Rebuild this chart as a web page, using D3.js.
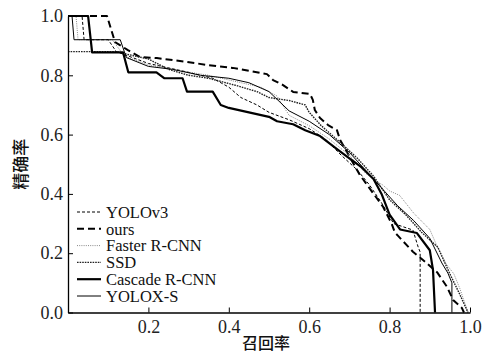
<!DOCTYPE html>
<html>
<head>
<meta charset="utf-8">
<script src="https://cdn.jsdelivr.net/npm/d3@7"></script>
<style>
  body { margin: 0; background: #fff; }
</style>
</head>
<body>
<svg id="chart"></svg>
<script>
// recall / precision points
const yolov3 = [[0,1],[0.035,1],[0.04,0.92],[0.1,0.92],[0.12,0.88],[0.2,0.84],[0.3,0.81],[0.36,0.79],[0.4,0.76],[0.43,0.725],[0.47,0.7],[0.5,0.675],[0.55,0.65],[0.6,0.62],[0.64,0.585],[0.68,0.53],[0.72,0.48],[0.75,0.43],[0.78,0.37],[0.81,0.3],[0.858,0.278],[0.871,0.221],[0.876,0.204],[0.876,0]];
const ours = [[0,1],[0.097,1],[0.117,0.912],[0.149,0.885],[0.179,0.862],[0.221,0.858],[0.296,0.845],[0.346,0.835],[0.41,0.825],[0.428,0.821],[0.495,0.804],[0.51,0.784],[0.535,0.767],[0.56,0.744],[0.602,0.737],[0.609,0.717],[0.614,0.683],[0.627,0.656],[0.647,0.632],[0.669,0.615],[0.677,0.582],[0.726,0.464],[0.784,0.356],[0.79,0.34],[0.805,0.3],[0.813,0.27],[0.82,0.26],[0.858,0.205],[0.883,0.177],[0.918,0.136],[0.943,0.086],[0.958,0.042],[0.98,0.015],[0.985,0]];
const fasterRcnn = [[0,1],[0.02,1],[0.025,0.92],[0.11,0.92],[0.14,0.865],[0.2,0.835],[0.28,0.815],[0.35,0.8],[0.43,0.775],[0.48,0.76],[0.52,0.73],[0.55,0.665],[0.6,0.63],[0.65,0.585],[0.7,0.53],[0.74,0.47],[0.77,0.44],[0.783,0.43],[0.8,0.41],[0.825,0.395],[0.86,0.335],[0.9,0.28],[0.916,0.23],[0.94,0.165],[0.96,0.13],[0.975,0.08],[0.99,0.02],[0.995,0]];
const ssd = [[0,0.88],[0.12,0.88],[0.15,0.87],[0.2,0.855],[0.25,0.82],[0.3,0.8],[0.35,0.79],[0.42,0.765],[0.47,0.745],[0.5,0.725],[0.55,0.715],[0.59,0.7],[0.6,0.675],[0.63,0.63],[0.68,0.57],[0.72,0.52],[0.76,0.46],[0.8,0.38],[0.84,0.33],[0.88,0.27],[0.92,0.22],[0.95,0.13],[0.975,0.06],[0.99,0.015],[0.995,0]];
const cascadeRcnn = [[0,1],[0.05,1],[0.06,0.877],[0.137,0.877],[0.15,0.81],[0.22,0.81],[0.24,0.79],[0.285,0.79],[0.296,0.745],[0.36,0.745],[0.38,0.7],[0.4,0.69],[0.45,0.675],[0.5,0.66],[0.52,0.645],[0.56,0.635],[0.59,0.615],[0.627,0.595],[0.67,0.55],[0.7,0.52],[0.73,0.49],[0.76,0.45],[0.78,0.4],[0.8,0.33],[0.826,0.28],[0.868,0.268],[0.9,0.21],[0.908,0.143],[0.913,0]];
const yoloxS = [[0,1],[0.01,1],[0.015,0.92],[0.13,0.92],[0.145,0.86],[0.2,0.83],[0.26,0.82],[0.33,0.8],[0.4,0.79],[0.45,0.775],[0.5,0.745],[0.55,0.68],[0.6,0.645],[0.65,0.6],[0.7,0.54],[0.74,0.48],[0.78,0.42],[0.82,0.36],[0.86,0.31],[0.9,0.25],[0.93,0.167],[0.945,0.133],[0.955,0.1],[0.955,0]];

const seriesNames = ['YOLOv3', 'ours', 'Faster R-CNN', 'SSD', 'Cascade R-CNN', 'YOLOX-S'];
const seriesData = [yolov3, ours, fasterRcnn, ssd, cascadeRcnn, yoloxS];
const xTicks = [0.2, 0.4, 0.6, 0.8, 1.0];
const yTicks = [0, 0.2, 0.4, 0.6, 0.8, 1.0];

const config = {
  width: 484,
  height: 353,
  marginTop: 16,
  marginRight: 14,
  marginBottom: 40.5,
  marginLeft: 68,
  serif: "'Liberation Serif', 'Times New Roman', serif",
  cjk: "'Noto Sans CJK SC', sans-serif",
};

// stroke styles per series, same order as seriesNames
const styles = [
  { color: '#000', width: 1, dash: '3,2' },
  { color: '#000', width: 2, dash: '7,4' },
  { color: '#888', width: 1, dash: '1,1.2' },
  { color: '#222', width: 1.4, dash: '1.6,1' },
  { color: '#000', width: 2.2, dash: null },
  { color: '#000', width: 1, dash: null },
];

const { width, height, marginTop, marginRight, marginBottom, marginLeft, serif, cjk } = config;
const svg = d3.select('#chart').attr('width', width).attr('height', height).attr('viewBox', [0, 0, width, height]);

const x = d3.scaleLinear([0, 1], [marginLeft, width - marginRight]);
const y = d3.scaleLinear([0, 1], [height - marginBottom, marginTop]);

/**
 * curves
 */
const line = d3.line().x((d) => x(d[0])).y((d) => y(d[1]));
svg
  .append('g')
  .selectAll('path')
  .data(seriesData)
  .join('path')
  .attr('fill', 'none')
  .attr('stroke', (_, i) => styles[i].color)
  .attr('stroke-width', (_, i) => styles[i].width)
  .attr('stroke-dasharray', (_, i) => styles[i].dash)
  .attr('stroke-linejoin', 'round')
  .attr('d', line);

/**
 * axes
 */
const fmt = d3.format('.1f');
const styleTicks = (g) =>
  g.selectAll('.tick text').style('font-family', serif).style('font-size', '18px').attr('fill', '#222');

svg
  .append('g')
  .attr('transform', `translate(0,${height - marginBottom})`)
  .call(d3.axisBottom(x).tickValues(xTicks).tickFormat(fmt).tickSizeInner(-5).tickSizeOuter(0).tickPadding(8))
  .call((g) => g.select('.domain').attr('stroke-width', 1.3))
  .call(styleTicks);

svg
  .append('g')
  .attr('transform', `translate(${marginLeft},0)`)
  .call(d3.axisLeft(y).tickValues(yTicks).tickFormat(fmt).tickSizeInner(-5).tickSizeOuter(0).tickPadding(5))
  .call((g) => g.select('.domain').attr('stroke-width', 1.3))
  .call(styleTicks);

// axis titles
svg
  .append('text')
  .attr('x', 266)
  .attr('y', height - 4)
  .attr('text-anchor', 'middle')
  .style('font-family', cjk)
  .style('font-size', '16px')
  .style('font-weight', 500)
  .attr('fill', '#111')
  .text('召回率');

svg
  .append('text')
  .attr('transform', `translate(27,${(marginTop + height - marginBottom) / 2}) rotate(-90)`)
  .attr('text-anchor', 'middle')
  .style('font-family', cjk)
  .style('font-size', '17px')
  .style('font-weight', 500)
  .attr('fill', '#111')
  .text('精确率');

/**
 * legend
 */
const legend = svg.append('g').attr('transform', 'translate(77,212)');
const rows = legend
  .selectAll('g')
  .data(seriesNames)
  .join('g')
  .attr('transform', (_, i) => `translate(0,${i * 16.8})`);
rows
  .append('line')
  .attr('x1', 0)
  .attr('x2', 24)
  .attr('stroke', (_, i) => styles[i].color)
  .attr('stroke-width', (_, i) => styles[i].width)
  .attr('stroke-dasharray', (_, i) => styles[i].dash);
rows
  .append('text')
  .attr('x', 29)
  .attr('dy', '0.35em')
  .style('font-family', serif)
  .style('font-size', '16.5px')
  .attr('fill', '#111')
  .text((d) => d);
</script>
</body>
</html>
